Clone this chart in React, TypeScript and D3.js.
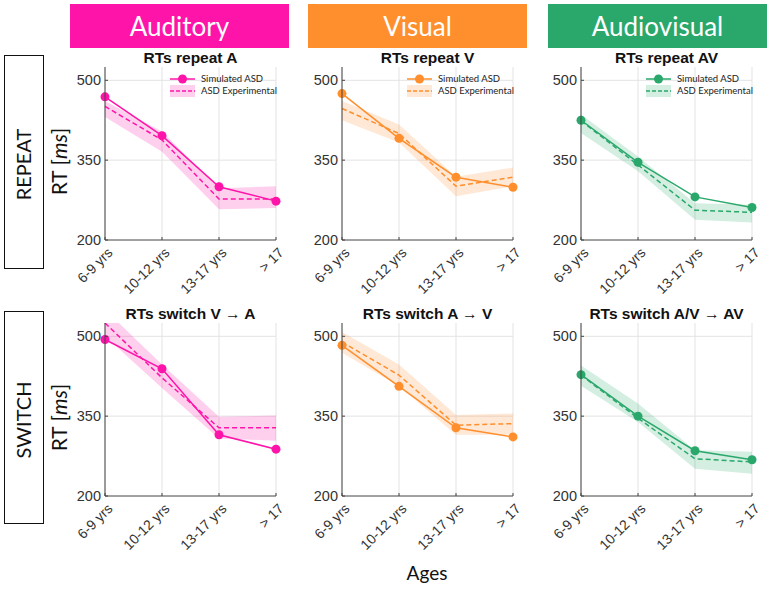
import React, { useEffect } from 'react';
import * as d3 from 'd3';

const ages = ['6-9 yrs', '10-12 yrs', '13-17 yrs', '> 17'];
const yTicks = [200, 350, 500];

const modalities = ['Auditory', 'Visual', 'Audiovisual'];
const modalityColors = ['#FF14A9', '#FF8E2D', '#2AA86B'];
const rowNames = ['REPEAT', 'SWITCH'];

const titles = [
  ['RTs repeat A', 'RTs repeat V', 'RTs repeat AV'],
  ['RTs switch V \u2192 A', 'RTs switch A \u2192 V', 'RTs switch A/V \u2192 AV'],
];

// simulated ASD model output (ms)
const simRepeatA = [469, 396, 300, 273];
const simRepeatV = [475, 391, 318, 299];
const simRepeatAV = [425, 346, 281, 261];
const simSwitchA = [494, 439, 315, 288];
const simSwitchV = [483, 406, 328, 311];
const simSwitchAV = [428, 350, 285, 268];

// experimental ASD means and band limits (ms)
const expRepeatA = [451, 388, 277, 277];
const loRepeatA = [431, 366, 258, 260];
const hiRepeatA = [461, 404, 297, 301];

const expRepeatV = [447, 400, 301, 318];
const loRepeatV = [425, 383, 282, 301];
const hiRepeatV = [461, 417, 319, 336];

const expRepeatAV = [424, 341, 256, 252];
const loRepeatAV = [401, 329, 238, 233];
const hiRepeatAV = [436, 357, 269, 266];

const expSwitchA = [525, 422, 328, 328];
const loSwitchA = [500, 403, 308, 304];
const hiSwitchA = [550, 447, 349, 351];

const expSwitchV = [489, 427, 333, 336];
const loSwitchV = [469, 406, 315, 315];
const hiSwitchV = [508, 447, 352, 355];

const expSwitchAV = [427, 346, 270, 264];
const loSwitchAV = [407, 339, 251, 242];
const hiSwitchAV = [445, 374, 286, 283];

const simRows = [
  [simRepeatA, simRepeatV, simRepeatAV],
  [simSwitchA, simSwitchV, simSwitchAV],
];
const expRows = [
  [expRepeatA, expRepeatV, expRepeatAV],
  [expSwitchA, expSwitchV, expSwitchAV],
];
const loRows = [
  [loRepeatA, loRepeatV, loRepeatAV],
  [loSwitchA, loSwitchV, loSwitchAV],
];
const hiRows = [
  [hiRepeatA, hiRepeatV, hiRepeatAV],
  [hiSwitchA, hiSwitchV, hiSwitchAV],
];

const W = 771;
const H = 589;
const panelLefts = [105, 342, 581];
const panelW = 171;
const rowTops = [67, 323];
const panelH = 173;

const calibri = 'Lato, "Open Sans", sans-serif';
const arial = '"Liberation Sans", Arial, sans-serif';

const Panel = ({ row, col }: { row: number; col: number }) => {
  const left = panelLefts[col];
  const top = rowTops[row];
  const color = modalityColors[col];
  const x = d3.scalePoint<string>().domain(ages).range([0, panelW]);
  const y = d3.scaleLinear().domain([200, 525]).range([panelH, 0]);
  const sim = simRows[row][col];
  const exp = expRows[row][col];
  const lo = loRows[row][col];
  const hi = hiRows[row][col];

  const line = d3
    .line<number>()
    .x((_, i) => x(ages[i]) as number)
    .y((d) => y(d));
  const band = d3
    .area<number>()
    .x((_, i) => x(ages[i]) as number)
    .y0((_, i) => y(lo[i]))
    .y1((d) => y(d));
  const clipId = `clip-${row}-${col}`;

  return (
    <g transform={`translate(${left},${top})`}>
      <defs>
        <clipPath id={clipId}>
          <rect x={-6} y={0} width={panelW + 12} height={panelH} />
        </clipPath>
      </defs>
      <text
        x={panelW / 2}
        y={-4}
        textAnchor="middle"
        fontFamily={arial}
        fontWeight="bold"
        fontSize={15.5}
        fill="#111"
      >
        {titles[row][col]}
      </text>
      {/* grid */}
      {ages.map((a) => (
        <line key={a} x1={x(a)} x2={x(a)} y1={0} y2={panelH} stroke="#e3e3e3" strokeWidth={1} />
      ))}
      {yTicks.slice(1).map((t) => (
        <line key={t} x1={0} x2={panelW} y1={y(t)} y2={y(t)} stroke="#e3e3e3" strokeWidth={1} />
      ))}
      <g clipPath={`url(#${clipId})`}>
        <path d={band(hi) || ''} fill={color} fillOpacity={0.2} />
        <path d={line(exp) || ''} fill="none" stroke={color} strokeWidth={1.5} strokeDasharray="5,3" />
        <path d={line(sim) || ''} fill="none" stroke={color} strokeWidth={1.5} />
      </g>
      {sim.map((v, i) => (
        <circle key={i} cx={x(ages[i])} cy={y(v)} r={4.5} fill={color} />
      ))}
      {/* axes */}
      <line x1={0} x2={0} y1={0} y2={panelH} stroke="#444" strokeWidth={1} />
      <line x1={0} x2={panelW} y1={panelH} y2={panelH} stroke="#444" strokeWidth={1} />
      {yTicks.map((t) => (
        <g key={t}>
          <line x1={0} x2={3} y1={y(t)} y2={y(t)} stroke="#444" />
          <text
            x={-4}
            y={y(t)}
            dy="0.35em"
            textAnchor="end"
            fontFamily={arial}
            fontSize={14.5}
            fill="#333"
          >
            {t}
          </text>
        </g>
      ))}
      {ages.map((a) => (
        <g key={a}>
          <line x1={x(a)} x2={x(a)} y1={panelH} y2={panelH - 3} stroke="#444" />
          <text
            transform={`translate(${(x(a) as number) + 5},${panelH + 10}) rotate(-45)`}
            textAnchor="end"
            dy="0.35em"
            fontFamily={arial}
            fontSize={14}
            fill="#333"
          >
            {a}
          </text>
        </g>
      ))}
      {col === 0 && (
        <text
          transform={`translate(-38,${panelH / 2 + 8}) rotate(-90)`}
          textAnchor="middle"
          fontFamily={calibri}
          fontSize={21}
          fill="#111"
        >
          RT [<tspan fontStyle="italic">ms</tspan>]
        </text>
      )}
      {row === 0 && (
        <g transform="translate(65,12)" fontFamily={calibri} fontSize={9.5} fill="#222">
          <line x1={0} x2={25} y1={0} y2={0} stroke={color} strokeWidth={1.5} />
          <circle cx={12.5} cy={0} r={4.5} fill={color} />
          <text x={31} y={0} dy="0.35em">
            Simulated ASD
          </text>
          <rect x={0} y={6} width={25} height={12} fill={color} fillOpacity={0.2} />
          <line x1={0} x2={25} y1={12} y2={12} stroke={color} strokeWidth={1.5} strokeDasharray="4,2" />
          <text x={31} y={12} dy="0.35em">
            ASD Experimental
          </text>
        </g>
      )}
    </g>
  );
};

const App = () => {
  useEffect(() => {
    document.body.style.margin = '0';
  }, []);

  const headerLefts = [70, 308, 548];
  const headerW = 219;
  const rowBoxes = [
    [55, 268],
    [311, 523],
  ];

  return (
    <svg width={W} height={H} style={{ display: 'block', background: '#fff' }}>
      {modalities.map((m, i) => (
        <g key={m}>
          <rect x={headerLefts[i]} y={4} width={headerW} height={44} fill={modalityColors[i]} />
          <text
            x={headerLefts[i] + headerW / 2}
            y={27}
            dy="0.35em"
            textAnchor="middle"
            fontFamily={calibri}
            fontSize={26}
            fill="#fff"
          >
            {m}
          </text>
        </g>
      ))}
      {rowNames.map((r, i) => (
        <g key={r}>
          <rect
            x={4.5}
            y={rowBoxes[i][0] + 0.5}
            width={39}
            height={rowBoxes[i][1] - rowBoxes[i][0]}
            fill="none"
            stroke="#111"
            strokeWidth={1}
          />
          <text
            transform={`translate(24,${(rowBoxes[i][0] + rowBoxes[i][1]) / 2 + 3}) rotate(-90)`}
            textAnchor="middle"
            dy="0.35em"
            fontFamily={calibri}
            fontSize={20}
            fill="#111"
          >
            {r}
          </text>
        </g>
      ))}
      {rowNames.map((_, r) =>
        modalities.map((_m, c) => <Panel key={`${r}-${c}`} row={r} col={c} />)
      )}
      <text x={427} y={580} textAnchor="middle" fontFamily={calibri} fontSize={19} fill="#111">
        Ages
      </text>
    </svg>
  );
};

export default App;
